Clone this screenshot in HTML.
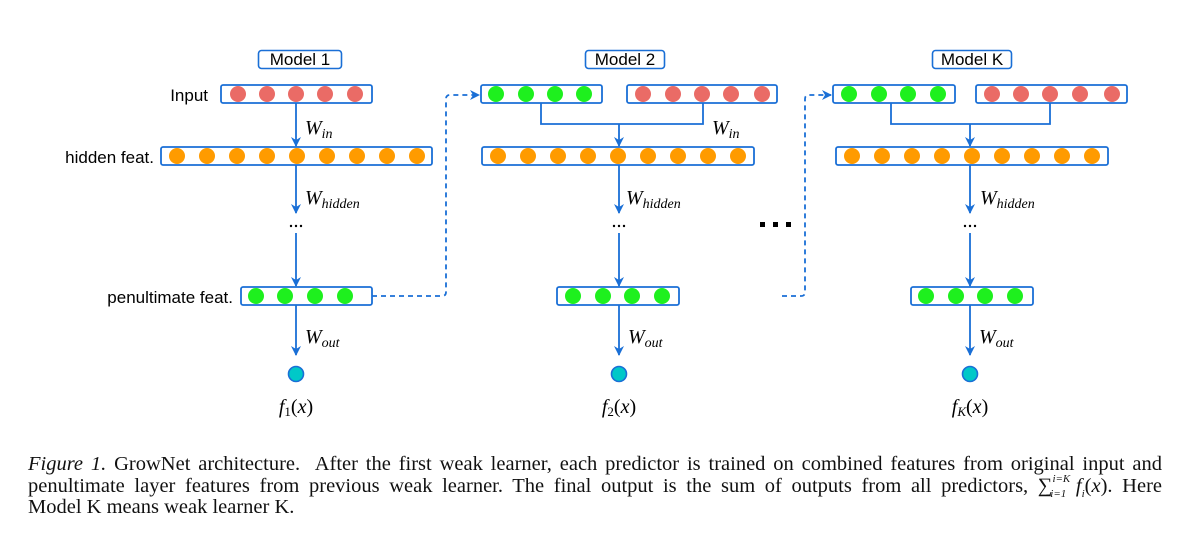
<!DOCTYPE html>
<html><head><meta charset="utf-8"><style>
html,body{margin:0;padding:0;background:#fff;width:1200px;height:545px;overflow:hidden}
svg{position:absolute;left:0;top:0}
.cap{position:absolute;left:28px;width:1134px;font-family:"Liberation Serif",serif;font-size:20.5px;line-height:21.5px;color:#111;top:454px}
.cap div{text-align:justify;text-align-last:justify;white-space:nowrap;height:21.5px}
.cap div.l{text-align-last:left}
</style></head><body>
<svg width="1200" height="545" viewBox="0 0 1200 545">
<defs>
<marker id="a" markerWidth="10" markerHeight="10" refX="9" refY="5" orient="auto" markerUnits="userSpaceOnUse"><path d="M0,0 L10,5 L0,10 L3,5 Z" fill="#1a6fd6"/></marker>
</defs>
<g font-family="Liberation Sans, sans-serif" font-size="17" fill="#000">
<rect x="258.5" y="50.5" width="83" height="18" rx="3" fill="none" stroke="#1a6fd6" stroke-width="1.6"/>
<text x="300" y="65" text-anchor="middle">Model 1</text>
<rect x="585.5" y="50.5" width="79" height="18" rx="3" fill="none" stroke="#1a6fd6" stroke-width="1.6"/>
<text x="625" y="65" text-anchor="middle">Model 2</text>
<rect x="932.5" y="50.5" width="79" height="18" rx="3" fill="none" stroke="#1a6fd6" stroke-width="1.6"/>
<text x="972" y="65" text-anchor="middle">Model K</text>
<text x="208" y="101" text-anchor="end">Input</text>
<text x="154" y="163" text-anchor="end">hidden feat.</text>
<text x="233" y="303" text-anchor="end">penultimate feat.</text>
</g>
<g fill="none" stroke="#1a6fd6" stroke-width="1.8">
<rect x="221" y="85" width="151" height="18" rx="2"/>
<rect x="161" y="147" width="271" height="18" rx="2"/>
<rect x="241" y="287" width="131" height="18" rx="2"/>
<rect x="481" y="85" width="121" height="18" rx="2"/>
<rect x="627" y="85" width="150" height="18" rx="2"/>
<rect x="482" y="147" width="272" height="18" rx="2"/>
<rect x="557" y="287" width="122" height="18" rx="2"/>
<rect x="833" y="85" width="122" height="18" rx="2"/>
<rect x="976" y="85" width="151" height="18" rx="2"/>
<rect x="836" y="147" width="272" height="18" rx="2"/>
<rect x="911" y="287" width="122" height="18" rx="2"/>
<line x1="296" y1="103" x2="296" y2="146" marker-end="url(#a)"/>
<line x1="296" y1="165" x2="296" y2="213" marker-end="url(#a)"/>
<line x1="296" y1="233" x2="296" y2="286" marker-end="url(#a)"/>
<line x1="296" y1="305" x2="296" y2="355" marker-end="url(#a)"/>
<path d="M541,103 V124 H703 V103"/>
<line x1="619" y1="124" x2="619" y2="146" marker-end="url(#a)"/>
<line x1="619" y1="165" x2="619" y2="213" marker-end="url(#a)"/>
<line x1="619" y1="233" x2="619" y2="286" marker-end="url(#a)"/>
<line x1="619" y1="305" x2="619" y2="355" marker-end="url(#a)"/>
<path d="M891,103 V124 H1050 V103"/>
<line x1="970" y1="124" x2="970" y2="146" marker-end="url(#a)"/>
<line x1="970" y1="165" x2="970" y2="213" marker-end="url(#a)"/>
<line x1="970" y1="233" x2="970" y2="286" marker-end="url(#a)"/>
<line x1="970" y1="305" x2="970" y2="355" marker-end="url(#a)"/>
<path d="M372,296 H442 Q446,296 446,292 V99 Q446,95 450,95 H479" stroke-dasharray="5,4" marker-end="url(#a)"/>
<path d="M782,296 H801 Q805,296 805,292 V99 Q805,95 809,95 H831" stroke-dasharray="5,4" marker-end="url(#a)"/>
</g>
<g>
<g fill="#ea6b66"><circle cx="238" cy="94" r="8"/><circle cx="267" cy="94" r="8"/><circle cx="296" cy="94" r="8"/><circle cx="325" cy="94" r="8"/><circle cx="355" cy="94" r="8"/>
<circle cx="643" cy="94" r="8"/><circle cx="673" cy="94" r="8"/><circle cx="702" cy="94" r="8"/><circle cx="731" cy="94" r="8"/><circle cx="762" cy="94" r="8"/>
<circle cx="992" cy="94" r="8"/><circle cx="1021" cy="94" r="8"/><circle cx="1050" cy="94" r="8"/><circle cx="1080" cy="94" r="8"/><circle cx="1112" cy="94" r="8"/></g>
<g fill="#1ef01e"><circle cx="496" cy="94" r="8"/><circle cx="526" cy="94" r="8"/><circle cx="555" cy="94" r="8"/><circle cx="584" cy="94" r="8"/>
<circle cx="849" cy="94" r="8"/><circle cx="879" cy="94" r="8"/><circle cx="908" cy="94" r="8"/><circle cx="938" cy="94" r="8"/>
<circle cx="256" cy="296" r="8"/><circle cx="285" cy="296" r="8"/><circle cx="315" cy="296" r="8"/><circle cx="345" cy="296" r="8"/>
<circle cx="573" cy="296" r="8"/><circle cx="603" cy="296" r="8"/><circle cx="632" cy="296" r="8"/><circle cx="662" cy="296" r="8"/>
<circle cx="926" cy="296" r="8"/><circle cx="956" cy="296" r="8"/><circle cx="985" cy="296" r="8"/><circle cx="1015" cy="296" r="8"/></g>
<g fill="#ff9b00">
<circle cx="177" cy="156" r="8"/><circle cx="207" cy="156" r="8"/><circle cx="237" cy="156" r="8"/><circle cx="267" cy="156" r="8"/><circle cx="297" cy="156" r="8"/><circle cx="327" cy="156" r="8"/><circle cx="357" cy="156" r="8"/><circle cx="387" cy="156" r="8"/><circle cx="417" cy="156" r="8"/>
<circle cx="498" cy="156" r="8"/><circle cx="528" cy="156" r="8"/><circle cx="558" cy="156" r="8"/><circle cx="588" cy="156" r="8"/><circle cx="618" cy="156" r="8"/><circle cx="648" cy="156" r="8"/><circle cx="678" cy="156" r="8"/><circle cx="708" cy="156" r="8"/><circle cx="738" cy="156" r="8"/>
<circle cx="852" cy="156" r="8"/><circle cx="882" cy="156" r="8"/><circle cx="912" cy="156" r="8"/><circle cx="942" cy="156" r="8"/><circle cx="972" cy="156" r="8"/><circle cx="1002" cy="156" r="8"/><circle cx="1032" cy="156" r="8"/><circle cx="1062" cy="156" r="8"/><circle cx="1092" cy="156" r="8"/></g>
<g fill="#00c8c8" stroke="#1a6fd6" stroke-width="1.6"><circle cx="296" cy="374" r="7.5"/><circle cx="619" cy="374" r="7.5"/><circle cx="970" cy="374" r="7.5"/></g>
</g>
<g fill="#000"><circle cx="291" cy="226" r="1.2"/><circle cx="296" cy="226" r="1.2"/><circle cx="301" cy="226" r="1.2"/>
<circle cx="614" cy="226" r="1.2"/><circle cx="619" cy="226" r="1.2"/><circle cx="624" cy="226" r="1.2"/>
<circle cx="965" cy="226" r="1.2"/><circle cx="970" cy="226" r="1.2"/><circle cx="975" cy="226" r="1.2"/>
<rect x="760" y="222" width="5" height="5"/><rect x="773" y="222" width="5" height="5"/><rect x="786" y="222" width="5" height="5"/></g>
<g font-family="Liberation Serif, serif" font-style="italic" fill="#000">
<text x="305" y="134" font-size="20">W<tspan font-size="14" dy="4">in</tspan></text>
<text x="712" y="134" font-size="20">W<tspan font-size="14" dy="4">in</tspan></text>
<text x="305" y="204" font-size="20">W<tspan font-size="14" dy="4">hidden</tspan></text>
<text x="626" y="204" font-size="20">W<tspan font-size="14" dy="4">hidden</tspan></text>
<text x="980" y="204" font-size="20">W<tspan font-size="14" dy="4">hidden</tspan></text>
<text x="305" y="343" font-size="20">W<tspan font-size="14" dy="4">out</tspan></text>
<text x="628" y="343" font-size="20">W<tspan font-size="14" dy="4">out</tspan></text>
<text x="979" y="343" font-size="20">W<tspan font-size="14" dy="4">out</tspan></text>
<text x="296" y="413" font-size="20" text-anchor="middle">f<tspan font-style="normal" font-size="13" dy="3">1</tspan><tspan dy="-3" font-style="normal">(</tspan>x<tspan font-style="normal">)</tspan></text>
<text x="619" y="413" font-size="20" text-anchor="middle">f<tspan font-style="normal" font-size="13" dy="3">2</tspan><tspan dy="-3" font-style="normal">(</tspan>x<tspan font-style="normal">)</tspan></text>
<text x="970" y="413" font-size="20" text-anchor="middle">f<tspan font-size="13" dy="3">K</tspan><tspan dy="-3" font-style="normal">(</tspan>x<tspan font-style="normal">)</tspan></text>
</g>
</svg>
<div class="cap">
<div><i>Figure 1.</i> GrowNet architecture.&nbsp; After the first weak learner, each predictor is trained on combined features from original input and</div>
<div>penultimate layer features from previous weak learner. The final output is the sum of outputs from all predictors, ∑<sup style="font-size:11px;font-style:italic;position:relative;top:-2px;line-height:0">i=K</sup><sub style="font-size:11px;margin-left:-20px;font-style:italic;line-height:0">i=1</sub> <i>f<sub style="font-size:11px;line-height:0">i</sub></i>(<i>x</i>). Here</div>
<div class="l">Model K means weak learner K.</div>
</div>
</body></html>
